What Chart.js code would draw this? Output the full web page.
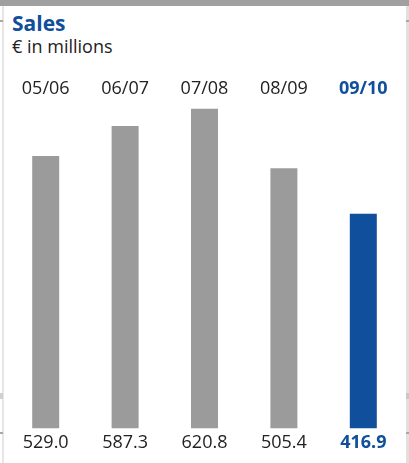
<!DOCTYPE html>
<html>
<head>
<meta charset="utf-8">
<script src="https://cdn.jsdelivr.net/npm/chart.js@4"></script>
<style>
  body { margin:0; background:#fff; }
  #wrap { position:relative; width:409px; height:463px; overflow:hidden; background:#fff; }
  #topband { position:absolute; left:0; top:0; width:409px; height:6px; background:#a0a0a1; }
  #lborder { position:absolute; left:2px; top:6px; width:2px; height:457px; background:#e6e6e6; }
  #rborder { position:absolute; left:406px; top:6px; width:3px; height:457px; background:#e0e0e0; }
  .mark { position:absolute; width:3px; height:2px; background:#a8a8a8; }
  #title { position:absolute; left:12px; top:9px; font:bold 21px "Open Sans"; color:#0f4f9b; }
  #subtitle { position:absolute; left:12px; top:34px; font:18px "Open Sans"; color:#222; }
  canvas { position:absolute; left:0; top:0; }
</style>
</head>
<body>
<div id="wrap">
  <div id="topband"></div>
  <div id="lborder"></div>
  <div id="rborder"></div>
  <div class="mark" style="left:0;top:20px"></div>
  <div class="mark" style="left:0;top:393px;height:6px;background:#d0d0d0"></div>
  <div class="mark" style="left:0;top:432px"></div>
  <div class="mark" style="left:406px;top:20px"></div>
  <div class="mark" style="left:406px;top:393px;height:6px;background:#c8c8c8"></div>
  <div class="mark" style="left:406px;top:432px"></div>
  <div id="title">Sales</div>
  <div id="subtitle">€ in millions</div>
  <canvas id="sales" width="409" height="463"></canvas>
</div>
<script>
// fiscal years and sales (€ millions)
const years = ["05/06", "06/07", "07/08", "08/09", "09/10"];
const sales = [529.0, 587.3, 620.8, 505.4, 416.9];
const valueLabels = sales.map(v => v.toFixed(1));

const GRAY = "#9b9b9c";
const BLUE = "#0f4f9b";
const TEXT = "#222222";
const last = years.length - 1;

const tickColor = ctx => ctx.index === last ? BLUE : TEXT;
const tickFont = ctx => ({ family: "Open Sans", size: 18, weight: ctx.index === last ? "bold" : "normal" });

new Chart(document.getElementById("sales"), {
  type: "bar",
  data: {
    labels: years,
    datasets: [{
      data: sales,
      backgroundColor: years.map((y, i) => i === last ? BLUE : GRAY),
      barPercentage: 0.34,
      categoryPercentage: 1
    }]
  },
  options: {
    responsive: false,
    animation: false,
    layout: { padding: { top: 74, bottom: 5, left: 6, right: 6 } },
    plugins: { legend: { display: false }, tooltip: { enabled: false } },
    scales: {
      x: {
        position: "top",
        grid: { display: false, drawTicks: false },
        border: { display: false },
        ticks: { color: tickColor, font: tickFont, padding: 4, maxRotation: 0 }
      },
      x2: {
        type: "category",
        labels: valueLabels,
        position: "bottom",
        grid: { display: false, drawTicks: false },
        border: { display: false },
        ticks: { color: tickColor, font: tickFont, padding: 4, maxRotation: 0 }
      },
      y: { display: false, min: 0, max: 631 }
    }
  }
});
</script>
</body>
</html>
